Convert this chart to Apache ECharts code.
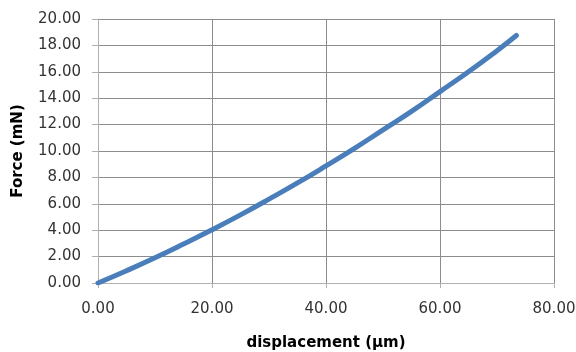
<!DOCTYPE html>
<html>
<head>
<meta charset="utf-8">
<script src="https://cdn.jsdelivr.net/npm/echarts@6/dist/echarts.min.js"></script>
<style>
  html, body { margin: 0; padding: 0; background: #fff; }
  #chart { width: 576px; height: 352px; }
</style>
</head>
<body>
<div id="chart"></div>
<script>
// displacement (µm)
var displacement = [0, 5, 10, 15, 20, 25, 30, 35, 40, 45, 50, 55, 60, 65, 70, 73.4];
// force (mN) at those displacements
var force = [0, 0.93, 1.91, 2.95, 4.03, 5.16, 6.35, 7.58, 8.87, 10.2, 11.6, 13.0, 14.5, 16.0, 17.6, 18.75];

var xName = "displacement (µm)";
var yName = "Force (mN)";

var points = displacement.map(function (d, i) { return [d, force[i]]; });

var myChart = echarts.init(document.getElementById("chart"));
var labelFont = { fontFamily: "DejaVu Sans", fontSize: 15, color: "#333" };
var nameFont = { fontFamily: "DejaVu Sans", fontSize: 15, fontWeight: "bold", color: "#000" };

var option = {
  animation: false,
  grid: { left: 98, right: 22, top: 19, bottom: 69, outerBoundsMode: "none", containLabel: false },
  xAxis: {
    type: "value",
    min: 0, max: 80, interval: 20,
    name: xName,
    nameLocation: "middle",
    nameGap: 53,
    nameTextStyle: nameFont,
    axisLine: { show: true, lineStyle: { color: "#b0b0b0", width: 1 } },
    axisTick: { show: true, length: 5, lineStyle: { color: "#b0b0b0" } },
    axisLabel: Object.assign({ margin: 19, formatter: function (v) { return v.toFixed(2); } }, labelFont),
    splitLine: { show: true, lineStyle: { color: "#8c8c8c", width: 1 } }
  },
  yAxis: {
    type: "value",
    min: 0, max: 20, interval: 2,
    name: yName,
    nameLocation: "middle",
    nameRotate: 90,
    nameGap: 72,
    nameTextStyle: nameFont,
    axisLine: { show: true, lineStyle: { color: "#b0b0b0", width: 1 } },
    axisTick: { show: true, length: 6, lineStyle: { color: "#b0b0b0" } },
    axisLabel: Object.assign({ margin: 17, formatter: function (v) { return v.toFixed(2); } }, labelFont),
    splitLine: { show: true, lineStyle: { color: "#8c8c8c", width: 1 } }
  },
  series: [
    {
      type: "line",
      data: points,
      showSymbol: false,
      smooth: true,
      lineStyle: { color: "#4a7ebb", width: 5, cap: "round" }
    }
  ]
};
myChart.setOption(option);
</script>
</body>
</html>
